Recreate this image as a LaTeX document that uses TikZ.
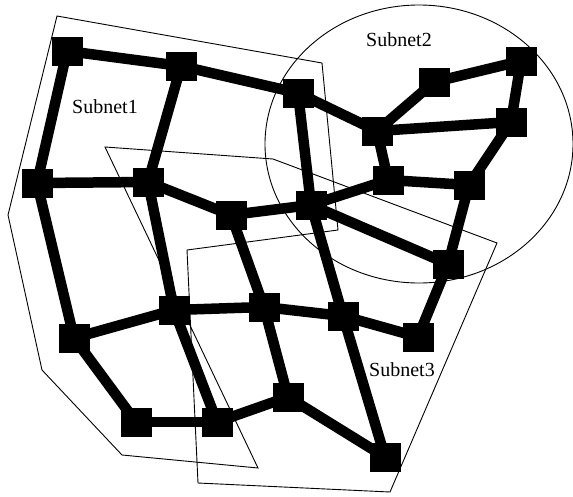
\documentclass[tikz,border=0pt]{standalone}
\usepackage{fontspec}
\setmainfont{Liberation Serif}
\begin{document}
\begin{tikzpicture}[x=1pt,y=-1pt,
  router/.style={fill=black,draw=none,minimum width=31pt,minimum height=29pt,inner sep=0pt},
  link/.style={line width=10.5pt},
  outline/.style={line width=0.9pt,line join=miter},
  netlabel/.style={font=\fontsize{20}{24}\selectfont,inner sep=0pt}]
\useasboundingbox (0,0) rectangle (573,496);

% subnet boundaries
\coordinate (pa) at (57,16);
\coordinate (pb) at (322,63);
\coordinate (pc) at (338,230);
\coordinate (pd) at (187,250);
\coordinate (pe) at (198,483);
\coordinate (pf) at (390,492);
\coordinate (pg) at (497,243);
\coordinate (ph) at (273,159);
\coordinate (pi) at (105,147);
\coordinate (pj) at (258,468);
\coordinate (pk) at (122,455);
\coordinate (pl) at (42,370);
\coordinate (pm) at (8,215);
\draw[outline] (pa) -- (pb) -- (pc) -- (pd) -- (pe) -- (pf) -- (pg) -- (ph)
  -- (pi) -- (pj) -- (pk) -- (pl) -- (pm) -- cycle;
\coordinate (sub2) at (419,144);
\draw[outline] (sub2) ellipse [x radius=154, y radius=139];

% routers
\node[router] (A) at (67,51) {};
\node[router] (B) at (181,66) {};
\node[router] (C) at (298,93) {};
\node[router] (D) at (37,183) {};
\node[router] (E) at (148,182) {};
\node[router] (F) at (231,215) {};
\node[router] (G) at (434,82) {};
\node[router] (H) at (521,61) {};
\node[router] (I) at (377,131) {};
\node[router] (J) at (511,122) {};
\node[router] (K) at (388,180) {};
\node[router] (L) at (469,185) {};
\node[router] (M) at (311,205) {};
\node[router] (N) at (448,264) {};
\node[router] (O) at (343,316) {};
\node[router] (P) at (418,337) {};
\node[router] (Q) at (385,457) {};
\node[router] (R) at (288,397) {};
\node[router] (T) at (174,310) {};
\node[router] (U) at (264,307) {};
\node[router] (V) at (74,338) {};
\node[router] (W) at (136,422) {};
\node[router] (X) at (217,422) {};

% links
\foreach \s/\t in {A/B,B/C,C/I,I/G,G/H,H/J,I/J,J/L,I/K,K/L,K/M,L/N,M/N,C/M,M/O,O/Q,
  F/M,A/D,B/E,D/E,E/F,D/V,E/T,F/U,V/T,T/U,U/O,O/P,P/N,V/W,W/X,X/R,R/Q,T/X,U/R}
  \draw[link] (\s.center) -- (\t.center);

% labels
\node[netlabel] (lab1) at (105,107) {Subnet1};
\node[netlabel] (lab2) at (399,40) {Subnet2};
\node[netlabel] (lab3) at (402,370) {Subnet3};
\end{tikzpicture}
\end{document}
